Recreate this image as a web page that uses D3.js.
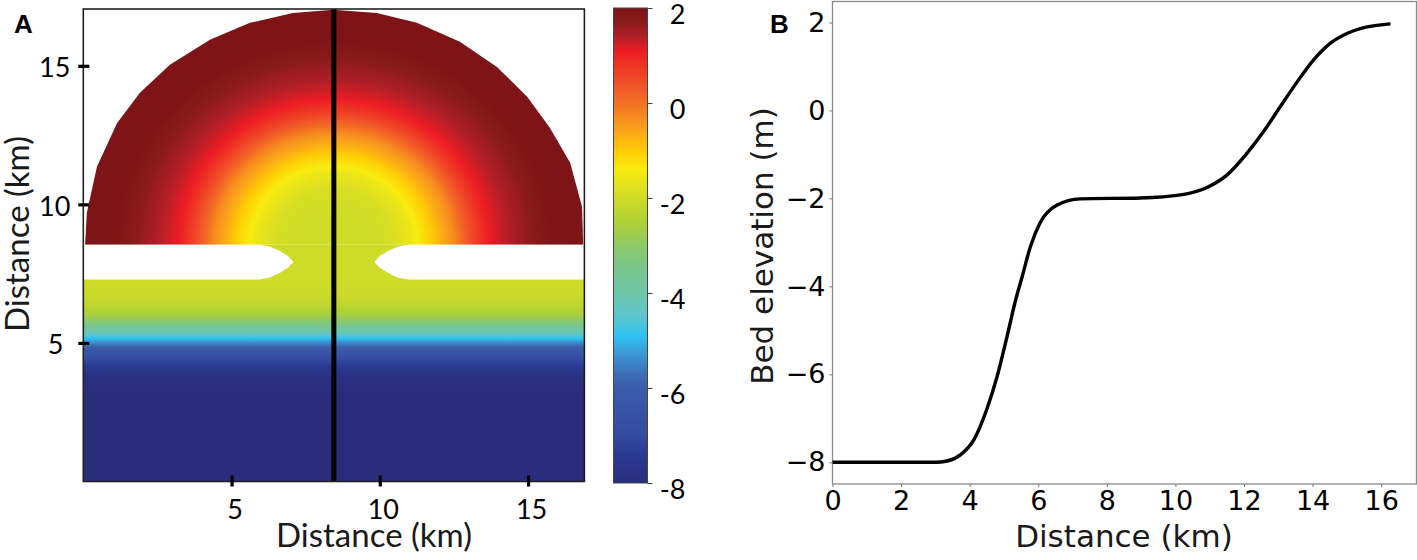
<!DOCTYPE html>
<html>
<head>
<meta charset="utf-8">
<script src="https://cdn.jsdelivr.net/npm/d3@7"></script>
<style>
  html, body { margin: 0; padding: 0; background: #fff; }
  svg { display: block; }
</style>
</head>
<body>
<script>
// bed profile along the centre line (panel B), km and m
const profileDist = [0, 1, 2, 3, 3.34, 3.73, 4.12, 4.51, 4.8, 5.09, 5.34, 5.53, 5.77, 6.05, 6.55, 7.22, 8.98, 10.15, 10.92, 11.5, 12.09, 12.57, 13.06, 13.55, 14.03, 14.52, 15.0, 15.59, 16.27, 17.05];
const profileBed = [-8, -8, -8, -8, -7.97, -7.83, -7.49, -6.77, -6.05, -5.14, -4.31, -3.78, -3.1, -2.56, -2.15, -2.01, -1.99, -1.92, -1.75, -1.47, -0.97, -0.48, 0.09, 0.65, 1.15, 1.53, 1.75, 1.9, 1.97, 2];

// bed against distance from the basin centre, upper half of panel A
const radialDist = [0, 1, 2, 2.5, 2.83, 3.2, 3.6, 4.04, 4.6, 5.24, 5.8, 6.44, 7.3, 8.6];
const radialBed = [-2, -2, -1.9, -1.65, -1.4, -1.1, -0.7, -0.3, 0.45, 1.1, 1.35, 1.6, 1.95, 2];

// outline of the basin, km
const basinX = [0.06, 0.12, 0.46, 1.14, 1.91, 2.92, 4.27, 5.62, 7.07, 8.42, 9.9, 11.25, 12.7, 13.95, 14.97, 15.74, 16.42, 16.82, 16.86];
const basinY = [8.54, 9.7, 11.36, 12.94, 14.03, 15.04, 15.94, 16.55, 16.91, 17.02, 16.91, 16.55, 15.87, 14.96, 13.88, 12.76, 11.5, 9.91, 8.54];

// left barrier (the right one mirrors it around the transect), km
const barrierX = [0, 5.96, 6.3, 6.63, 6.9, 7.09, 6.9, 6.63, 6.3, 5.96, 0];
const barrierY = [8.54, 8.54, 8.47, 8.32, 8.14, 7.92, 7.71, 7.53, 7.36, 7.29, 7.29];
const transectX = 8.45;
const basinTop = 8.54;

const colorValues = [2, 1.7, 1.4, 1.1, 0.7, 0.3, 0, -0.5, -1, -1.4, -1.8, -2, -2.5, -3, -3.5, -4, -4.5, -4.9, -5.3, -5.7, -6, -7, -7.4, -8];
const colorHex = ["#7d1416", "#8b1a1c", "#b01f26", "#ed1c24", "#ef3b24", "#f15a29", "#f37021", "#f99d1c", "#ffcb05", "#f8ec0f", "#dfe020", "#cfdc27", "#b0d135", "#8dc967", "#78c68e", "#6fc7a8", "#5cc5cf", "#2dc3f3", "#3d95d2", "#3c6fb6", "#3a5ca9", "#354aa0", "#2a3a92", "#2a2d7c"];

const mapTicks = [5, 10, 15];
const barTicks = [2, 0, -2, -4, -6, -8];
const bedXTicks = [0, 2, 4, 6, 8, 10, 12, 14, 16];
const bedYTicks = [2, 0, -2, -4, -6, -8];

const width = 1417, height = 560;
const lato = "Lato, 'Open Sans', sans-serif";
const dejavu = "'DejaVu Sans', sans-serif";

const svg = d3.select("body").append("svg")
  .attr("width", width)
  .attr("height", height);
const defs = svg.append("defs");

const color = d3.scaleLinear().domain(colorValues).range(colorHex).clamp(true);

// ---------- panel A ----------
const x = d3.scaleLinear().domain([0, 16.9]).range([83.3, 584.4]);
const y = d3.scaleLinear().domain([0, 17.05]).range([481.5, 9]);

const bedAt = d3.scaleLinear().domain(profileDist).range(profileBed);
const radialAt = d3.scaleLinear().domain(radialDist).range(radialBed);

const addStops = (grad, span, valueAt) => {
  grad.selectAll("stop")
    .data(d3.range(0, 1.0001, 1 / 240))
    .join("stop")
    .attr("offset", (d) => d)
    .attr("stop-color", (d) => color(valueAt(d * span)));
};

addStops(
  defs.append("linearGradient")
    .attr("id", "lowerGrad")
    .attr("gradientUnits", "userSpaceOnUse")
    .attr("x1", 0).attr("x2", 0)
    .attr("y1", y(0)).attr("y2", y(basinTop)),
  basinTop, bedAt
);
const radius = 8.6;
addStops(
  defs.append("radialGradient")
    .attr("id", "basinGrad")
    .attr("gradientUnits", "userSpaceOnUse")
    .attr("cx", 0).attr("cy", 0).attr("r", 1)
    .attr("gradientTransform",
      `translate(${x(transectX)},${y(basinTop)}) scale(${x(radius) - x(0)},${y(0) - y(radius)})`),
  radius, radialAt
);

const mapLine = d3.line().x((d) => x(d[0])).y((d) => y(d[1]));

svg.append("rect")
  .attr("x", x(0)).attr("y", y(basinTop))
  .attr("width", x(16.9) - x(0))
  .attr("height", y(0) - y(basinTop))
  .attr("fill", "url(#lowerGrad)");

svg.append("path")
  .attr("d", mapLine(d3.zip(basinX, basinY)) + "Z")
  .attr("fill", "url(#basinGrad)");

const leftBarrier = d3.zip(barrierX, barrierY);
const rightBarrier = leftBarrier.map(([a, b]) => [2 * transectX - a, b]);
svg.selectAll("path.barrier")
  .data([leftBarrier, rightBarrier])
  .join("path")
  .attr("class", "barrier")
  .attr("d", (d) => mapLine(d) + "Z")
  .attr("fill", "white");

svg.append("line")
  .attr("x1", x(transectX)).attr("x2", x(transectX))
  .attr("y1", y(17.05)).attr("y2", y(0))
  .attr("stroke", "black")
  .attr("stroke-width", 5);

svg.append("rect")
  .attr("x", x(0)).attr("y", y(17.05))
  .attr("width", x(16.9) - x(0))
  .attr("height", y(0) - y(17.05))
  .attr("fill", "none")
  .attr("stroke", "#222")
  .attr("stroke-width", 1.6);

const mapXAxis = svg.append("g")
  .attr("transform", `translate(0,${y(0)})`)
  .call(d3.axisBottom(x).tickValues(mapTicks).tickSize(5).tickPadding(13));
const mapYAxis = svg.append("g")
  .attr("transform", `translate(${x(0)},0)`)
  .call(d3.axisLeft(y).tickValues(mapTicks).tickSize(5).tickPadding(8));
mapXAxis.select(".domain").remove();
mapYAxis.select(".domain").remove();
mapXAxis.selectAll("line").attr("y1", -6).attr("stroke", "black").attr("stroke-width", 3.2);
mapYAxis.selectAll("line").attr("x1", 6).attr("stroke", "black").attr("stroke-width", 3.2);
mapXAxis.selectAll("text").attr("dx", 3);
mapYAxis.selectAll("text").attr("dy", "0.4em").attr("dx", (d) => (d === 5 ? -7 : 0));
[mapXAxis, mapYAxis].forEach((g) => g.attr("font-family", lato).attr("font-size", 27).attr("fill", "#1a1a1a"));

svg.append("text")
  .attr("x", 374).attr("y", 547)
  .attr("text-anchor", "middle")
  .attr("font-family", lato).attr("font-size", 33).attr("fill", "#1a1a1a")
  .text("Distance (km)");
svg.append("text")
  .attr("transform", "translate(29,234) rotate(-90)")
  .attr("text-anchor", "middle")
  .attr("font-family", lato).attr("font-size", 33).attr("fill", "#1a1a1a")
  .text("Distance (km)");

// ---------- colour bar ----------
const barScale = d3.scaleLinear().domain([-8, 2]).range([483, 8]);
const barGrad = defs.append("linearGradient")
  .attr("id", "barGrad")
  .attr("x1", 0).attr("x2", 0).attr("y1", 0).attr("y2", 1);
barGrad.selectAll("stop")
  .data(colorValues)
  .join("stop")
  .attr("offset", (d) => (2 - d) / 10)
  .attr("stop-color", (d) => color(d));

svg.append("rect")
  .attr("x", 613.5).attr("y", barScale(2))
  .attr("width", 34)
  .attr("height", barScale(-8) - barScale(2))
  .attr("fill", "url(#barGrad)")
  .attr("stroke", "#444")
  .attr("stroke-width", 1);

const barAxis = svg.append("g")
  .attr("transform", "translate(647.5,0)")
  .call(d3.axisRight(barScale).tickValues(barTicks).tickSize(5).tickPadding(33).tickFormat((d) => String(d)));
barAxis.select(".domain").remove();
barAxis.selectAll("line").attr("stroke", "#444");
barAxis.selectAll("text").attr("text-anchor", "end").attr("dy", "0.58em");
barAxis.attr("font-family", lato).attr("font-size", 27).attr("fill", "#1a1a1a");

// ---------- panel B ----------
const bx = d3.scaleLinear().domain([0, 17.03]).range([832.5, 1416.5]);
const by = d3.scaleLinear().domain([-8, 2]).range([462.3, 22.5]);
const frameTop = 1.5, frameBottom = 484;

svg.append("rect")
  .attr("x", bx(0)).attr("y", frameTop)
  .attr("width", bx(17.03) - bx(0))
  .attr("height", frameBottom - frameTop)
  .attr("fill", "none")
  .attr("stroke", "#8a8a8a")
  .attr("stroke-width", 1.3);

const bedLine = d3.line()
  .x((d) => bx(d[0]))
  .y((d) => by(d[1]))
  .curve(d3.curveMonotoneX);
svg.append("path")
  .datum(d3.zip(profileDist, profileBed).filter((d) => d[0] <= 17.03))
  .attr("d", bedLine)
  .attr("fill", "none")
  .attr("stroke", "black")
  .attr("stroke-width", 3.4);

const bedXAxis = svg.append("g")
  .attr("transform", `translate(0,${frameBottom})`)
  .call(d3.axisBottom(bx).tickValues(bedXTicks).tickSize(3).tickPadding(4));
const bedYAxis = svg.append("g")
  .attr("transform", `translate(${bx(0)},0)`)
  .call(d3.axisLeft(by).tickValues(bedYTicks).tickSize(3).tickPadding(4).tickFormat((d) => String(d).replace("-", "\u2212")));
[bedXAxis, bedYAxis].forEach((g) => {
  g.select(".domain").remove();
  g.selectAll("line").attr("stroke", "#777");
  g.attr("font-family", dejavu).attr("font-size", 27).attr("fill", "#1a1a1a");
});

svg.append("text")
  .attr("x", 1124).attr("y", 547)
  .attr("text-anchor", "middle")
  .attr("font-family", dejavu).attr("font-size", 31).attr("fill", "#1a1a1a")
  .text("Distance (km)");
svg.append("text")
  .attr("transform", "translate(773,246) rotate(-90)")
  .attr("text-anchor", "middle")
  .attr("font-family", dejavu).attr("font-size", 31).attr("fill", "#1a1a1a")
  .text("Bed elevation (m)");

// panel letters
svg.selectAll("text.letter")
  .data([["A", 14, 33], ["B", 770, 33]])
  .join("text")
  .attr("class", "letter")
  .attr("x", (d) => d[1]).attr("y", (d) => d[2])
  .attr("font-family", "'Liberation Sans', Arial, sans-serif")
  .attr("font-weight", "bold")
  .attr("font-size", 26)
  .text((d) => d[0]);
</script>
</body>
</html>
